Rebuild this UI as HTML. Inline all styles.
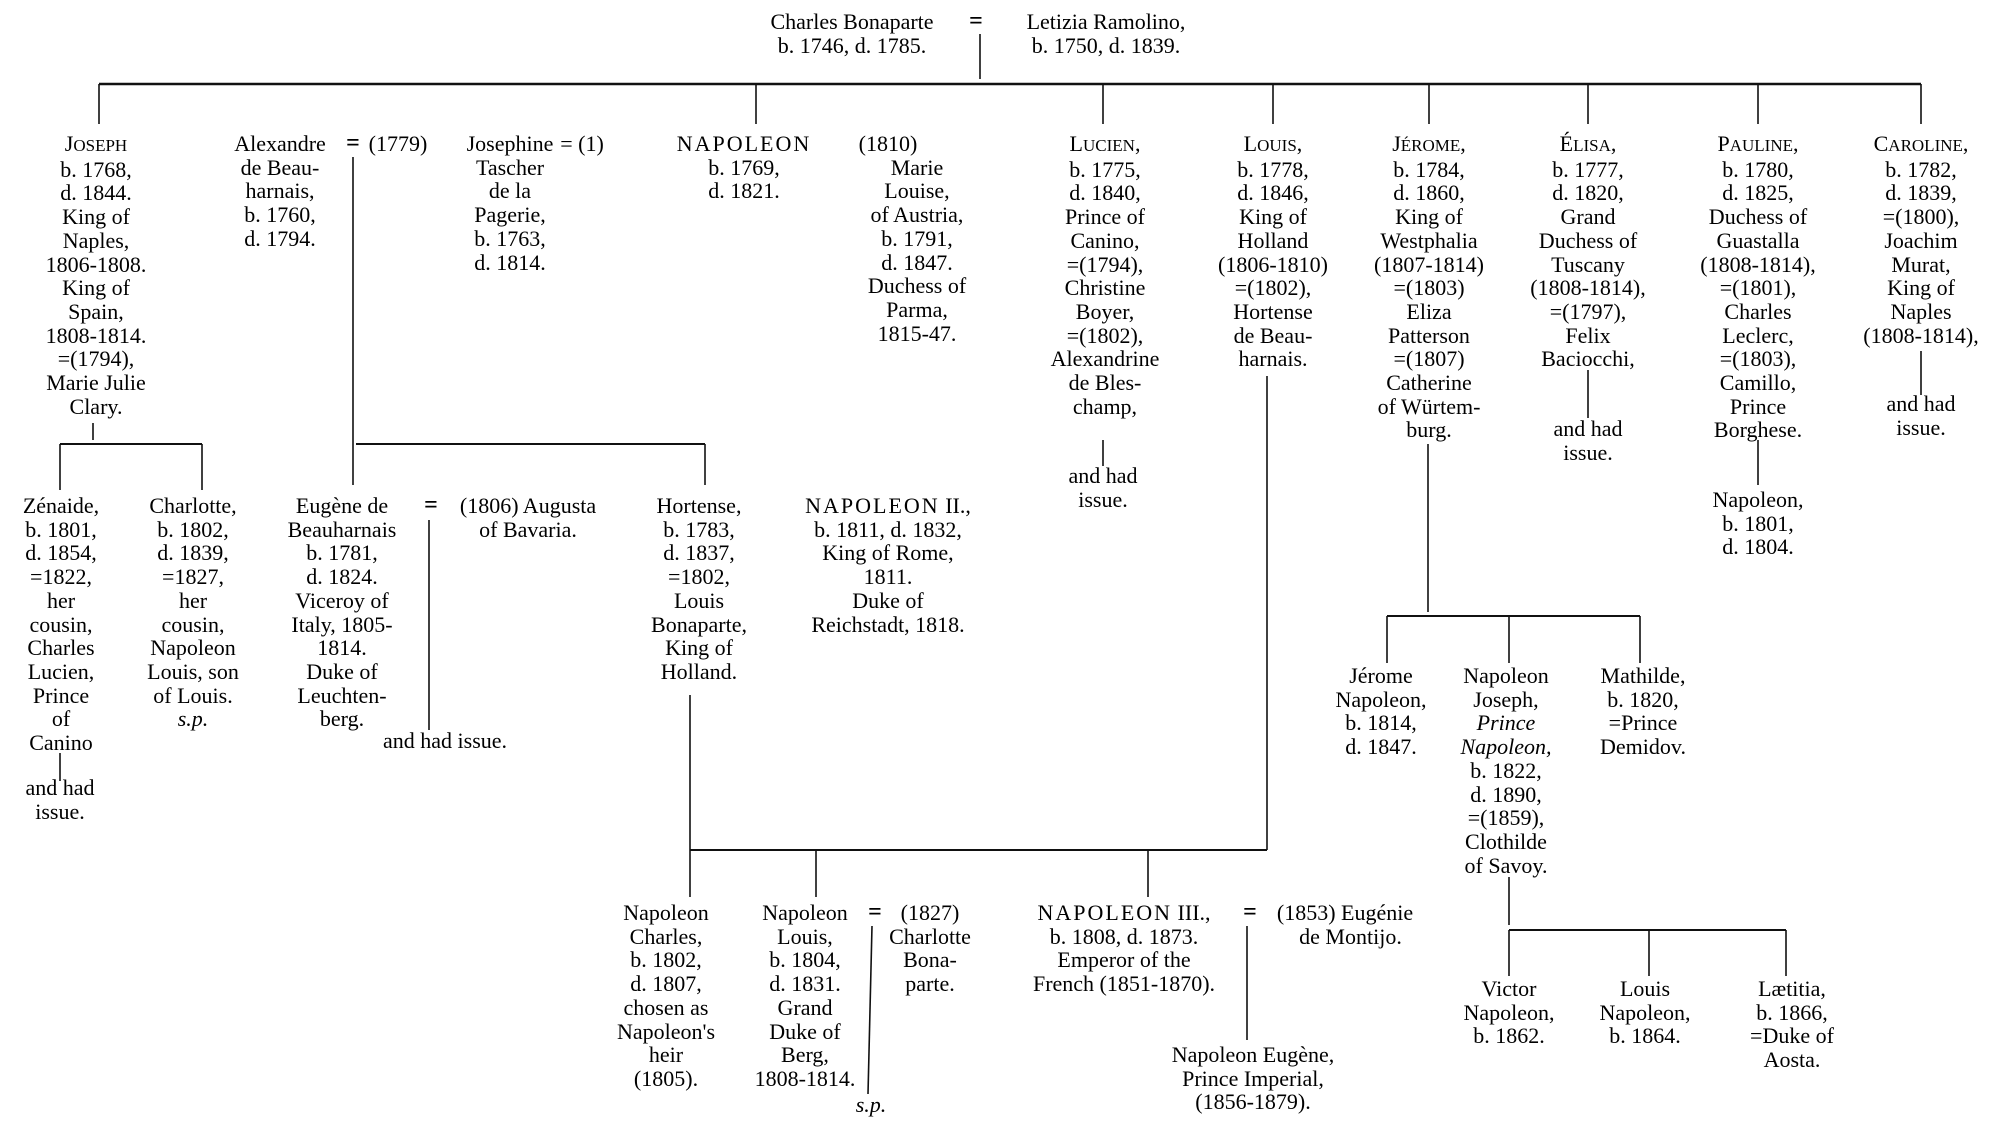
<!DOCTYPE html>
<html><head><meta charset="utf-8"><style>
body{margin:0;background:#fff;}
#p{position:relative;width:2000px;height:1128px;overflow:hidden;font-family:"Liberation Serif",serif;font-size:22px;line-height:23.7px;color:#000;}
.c{position:absolute;transform:translateX(-50%);text-align:center;white-space:nowrap;}
.s{font-size:17px;}
.np{letter-spacing:2px;}
.eq{font-weight:bold;font-size:24px;}
i{font-style:italic;}
svg{position:absolute;left:0;top:0;}
</style></head><body><div id="p">
<svg width="2000" height="1128" stroke="#111" stroke-width="1.6" fill="none">
<line x1="980" y1="34" x2="980" y2="79"/>
<line x1="99" y1="84" x2="1921" y2="84" stroke-width="2.4"/>
<line x1="99" y1="84" x2="99" y2="124"/><line x1="756" y1="84" x2="756" y2="124"/>
<line x1="1103" y1="84" x2="1103" y2="124"/><line x1="1273" y1="84" x2="1273" y2="124"/>
<line x1="1429" y1="84" x2="1429" y2="124"/><line x1="1588" y1="84" x2="1588" y2="124"/>
<line x1="1758" y1="84" x2="1758" y2="124"/><line x1="1921" y1="84" x2="1921" y2="124"/>
<line x1="93" y1="423" x2="93" y2="440"/>
<line x1="60" y1="444" x2="202" y2="444" stroke-width="2"/>
<line x1="60" y1="444" x2="60" y2="490"/><line x1="202" y1="444" x2="202" y2="490"/>
<line x1="353" y1="157" x2="353" y2="444"/>
<line x1="356" y1="444" x2="705" y2="444" stroke-width="2"/>
<line x1="353" y1="444" x2="353" y2="485"/><line x1="705" y1="444" x2="705" y2="485"/>
<line x1="1103" y1="440" x2="1103" y2="466"/>
<line x1="1267" y1="376" x2="1267" y2="850"/>
<line x1="1428" y1="444" x2="1428" y2="612"/>
<line x1="1387" y1="616" x2="1640" y2="616" stroke-width="2"/>
<line x1="1387" y1="616" x2="1387" y2="663"/><line x1="1509" y1="616" x2="1509" y2="663"/><line x1="1640" y1="616" x2="1640" y2="663"/>
<line x1="1588" y1="370" x2="1588" y2="418"/>
<line x1="1758" y1="440" x2="1758" y2="485"/>
<line x1="1921" y1="351" x2="1921" y2="395"/>
<line x1="60" y1="753" x2="60" y2="781"/>
<line x1="429" y1="520" x2="429" y2="730"/>
<line x1="690" y1="695" x2="690" y2="850"/>
<line x1="690" y1="850" x2="1267" y2="850" stroke-width="2"/>
<line x1="690" y1="850" x2="690" y2="897"/><line x1="816" y1="850" x2="816" y2="897"/><line x1="1148" y1="850" x2="1148" y2="897"/>
<line x1="872" y1="926" x2="868" y2="1094"/>
<line x1="1247" y1="926" x2="1247" y2="1040"/>
<line x1="1509" y1="877" x2="1509" y2="925"/>
<line x1="1509" y1="930" x2="1786" y2="930" stroke-width="2"/>
<line x1="1509" y1="930" x2="1509" y2="976"/><line x1="1649" y1="930" x2="1649" y2="976"/><line x1="1786" y1="930" x2="1786" y2="976"/>
</svg>

<div class="c" style="left:852px;top:10px">Charles Bonaparte<br>b. 1746, d. 1785.</div>
<div class="c eq" style="left:976px;top:10px">=</div>
<div class="c" style="left:1106px;top:10px">Letizia Ramolino,<br>b. 1750, d. 1839.</div>

<div class="c" style="left:96px;top:132px">J<span class="s">OSEPH</span><br>b. 1768,<br>d. 1844.<br>King of<br>Naples,<br>1806-1808.<br>King of<br>Spain,<br>1808-1814.<br>=(1794),<br>Marie Julie<br>Clary.</div>
<div class="c" style="left:280px;top:132px">Alexandre<br>de Beau-<br>harnais,<br>b. 1760,<br>d. 1794.</div>
<div class="c eq" style="left:353px;top:132px">=</div>
<div class="c" style="left:398px;top:132px">(1779)</div>
<div class="c" style="left:510px;top:132px">Josephine<br>Tascher<br>de la<br>Pagerie,<br>b. 1763,<br>d. 1814.</div>
<div class="c" style="left:582px;top:132px">= (1)</div>
<div class="c" style="left:744px;top:132px"><span class="np">NAPOLEON</span><br>b. 1769,<br>d. 1821.</div>
<div class="c" style="left:888px;top:132px">(1810)</div>
<div class="c" style="left:917px;top:155.7px">Marie<br>Louise,<br>of Austria,<br>b. 1791,<br>d. 1847.<br>Duchess of<br>Parma,<br>1815-47.</div>
<div class="c" style="left:1105px;top:132px">L<span class="s">UCIEN</span>,<br>b. 1775,<br>d. 1840,<br>Prince of<br>Canino,<br>=(1794),<br>Christine<br>Boyer,<br>=(1802),<br>Alexandrine<br>de Bles-<br>champ,</div>
<div class="c" style="left:1103px;top:464px">and had<br>issue.</div>
<div class="c" style="left:1273px;top:132px">L<span class="s">OUIS</span>,<br>b. 1778,<br>d. 1846,<br>King of<br>Holland<br>(1806-1810)<br>=(1802),<br>Hortense<br>de Beau-<br>harnais.</div>
<div class="c" style="left:1429px;top:132px">J<span class="s">ÉROME</span>,<br>b. 1784,<br>d. 1860,<br>King of<br>Westphalia<br>(1807-1814)<br>=(1803)<br>Eliza<br>Patterson<br>=(1807)<br>Catherine<br>of Würtem-<br>burg.</div>
<div class="c" style="left:1588px;top:132px">É<span class="s">LISA</span>,<br>b. 1777,<br>d. 1820,<br>Grand<br>Duchess of<br>Tuscany<br>(1808-1814),<br>=(1797),<br>Felix<br>Baciocchi,</div>
<div class="c" style="left:1588px;top:417px">and had<br>issue.</div>
<div class="c" style="left:1758px;top:132px">P<span class="s">AULINE</span>,<br>b. 1780,<br>d. 1825,<br>Duchess of<br>Guastalla<br>(1808-1814),<br>=(1801),<br>Charles<br>Leclerc,<br>=(1803),<br>Camillo,<br>Prince<br>Borghese.</div>
<div class="c" style="left:1758px;top:488px">Napoleon,<br>b. 1801,<br>d. 1804.</div>
<div class="c" style="left:1921px;top:132px">C<span class="s">AROLINE</span>,<br>b. 1782,<br>d. 1839,<br>=(1800),<br>Joachim<br>Murat,<br>King of<br>Naples<br>(1808-1814),</div>
<div class="c" style="left:1921px;top:392px">and had<br>issue.</div>

<div class="c" style="left:61px;top:494px">Zénaide,<br>b. 1801,<br>d. 1854,<br>=1822,<br>her<br>cousin,<br>Charles<br>Lucien,<br>Prince<br>of<br>Canino</div>
<div class="c" style="left:60px;top:776px">and had<br>issue.</div>
<div class="c" style="left:193px;top:494px">Charlotte,<br>b. 1802,<br>d. 1839,<br>=1827,<br>her<br>cousin,<br>Napoleon<br>Louis, son<br>of Louis.<br><i>s.p.</i></div>
<div class="c" style="left:342px;top:494px">Eugène de<br>Beauharnais<br>b. 1781,<br>d. 1824.<br>Viceroy of<br>Italy, 1805-<br>1814.<br>Duke of<br>Leuchten-<br>berg.</div>
<div class="c eq" style="left:431px;top:494px">=</div>
<div class="c" style="left:528px;top:494px">(1806) Augusta<br>of Bavaria.</div>
<div class="c" style="left:445px;top:729px">and had issue.</div>
<div class="c" style="left:699px;top:494px">Hortense,<br>b. 1783,<br>d. 1837,<br>=1802,<br>Louis<br>Bonaparte,<br>King of<br>Holland.</div>
<div class="c" style="left:888px;top:494px"><span class="np">NAPOLEON</span> II.,<br>b. 1811, d. 1832,<br>King of Rome,<br>1811.<br>Duke of<br>Reichstadt, 1818.</div>

<div class="c" style="left:1381px;top:664px">Jérome<br>Napoleon,<br>b. 1814,<br>d. 1847.</div>
<div class="c" style="left:1506px;top:664px">Napoleon<br>Joseph,<br><i>Prince</i><br><i>Napoleon,</i><br>b. 1822,<br>d. 1890,<br>=(1859),<br>Clothilde<br>of Savoy.</div>
<div class="c" style="left:1643px;top:664px">Mathilde,<br>b. 1820,<br>=Prince<br>Demidov.</div>

<div class="c" style="left:666px;top:901px">Napoleon<br>Charles,<br>b. 1802,<br>d. 1807,<br>chosen as<br>Napoleon's<br>heir<br>(1805).</div>
<div class="c" style="left:805px;top:901px">Napoleon<br>Louis,<br>b. 1804,<br>d. 1831.<br>Grand<br>Duke of<br>Berg,<br>1808-1814.</div>
<div class="c eq" style="left:875px;top:901px">=</div>
<div class="c" style="left:871px;top:1093px"><i>s.p.</i></div>
<div class="c" style="left:930px;top:901px">(1827)<br>Charlotte<br>Bona-<br>parte.</div>
<div class="c" style="left:1124px;top:901px"><span class="np">NAPOLEON</span> III.,<br>b. 1808, d. 1873.<br>Emperor of the<br>French (1851-1870).</div>
<div class="c eq" style="left:1250px;top:901px">=</div>
<div class="c" style="left:1345px;top:901px">(1853) Eugénie<br>&nbsp;&nbsp;de Montijo.</div>
<div class="c" style="left:1253px;top:1043px">Napoleon Eugène,<br>Prince Imperial,<br>(1856-1879).</div>
<div class="c" style="left:1509px;top:977px">Victor<br>Napoleon,<br>b. 1862.</div>
<div class="c" style="left:1645px;top:977px">Louis<br>Napoleon,<br>b. 1864.</div>
<div class="c" style="left:1792px;top:977px">Lætitia,<br>b. 1866,<br>=Duke of<br>Aosta.</div>
</div></body></html>
